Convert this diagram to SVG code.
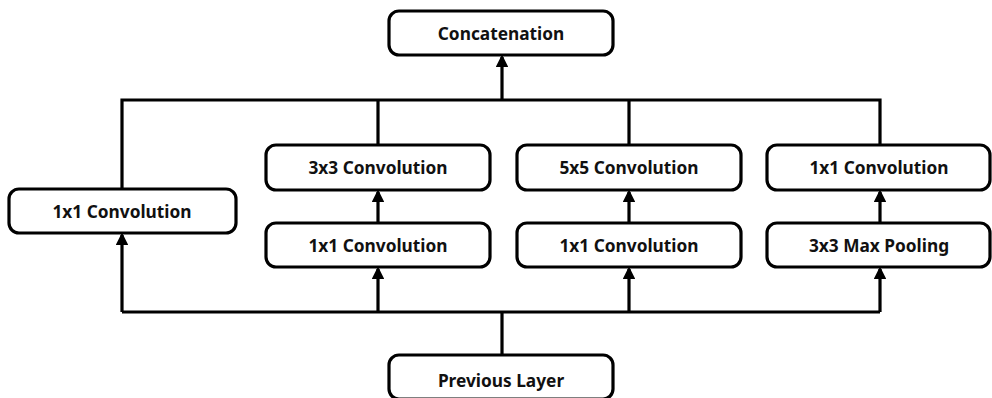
<svg xmlns="http://www.w3.org/2000/svg" width="992" height="398" viewBox="0 0 992 398">
<style>
.box{fill:#fff;stroke:#000;stroke-width:3.2}
.lbl{font-family:"Noto Sans","Open Sans",sans-serif;font-weight:bold;font-size:17.3px;fill:#111;text-anchor:middle;dominant-baseline:central}
.ln{fill:none;stroke:#000;stroke-width:3.2}
</style>
<defs>
<marker id="ah" markerWidth="4" markerHeight="4" refX="3.2" refY="2" orient="auto" markerUnits="strokeWidth">
<path d="M0,0 L4,2 L0,4 Z" fill="#000"/>
</marker>
</defs>
<g id="connectors">
<path class="ln" d="M122,189 V100 H880 V145 M378,100 V145 M629,100 V145"/>
<path class="ln" d="M502,100 V57" marker-end="url(#ah)"/>
<path class="ln" d="M502,355 V312"/>
<path class="ln" d="M122,312 H880"/>
<path class="ln" d="M122,312 V235" marker-end="url(#ah)"/>
<path class="ln" d="M378,312 V269" marker-end="url(#ah)"/>
<path class="ln" d="M629,312 V269" marker-end="url(#ah)"/>
<path class="ln" d="M880,312 V269" marker-end="url(#ah)"/>
<path class="ln" d="M378,223 V192" marker-end="url(#ah)"/>
<path class="ln" d="M629,223 V192" marker-end="url(#ah)"/>
<path class="ln" d="M880,223 V192" marker-end="url(#ah)"/>
</g>
<g id="concat"><rect class="box" x="389" y="11" width="224" height="44" rx="10"/><text class="lbl" x="501" y="33">Concatenation</text></g>
<g id="conv1x1_a"><rect class="box" x="9" y="189" width="227" height="44" rx="10"/><text class="lbl" x="122" y="211">1x1 Convolution</text></g>
<g id="conv3x3"><rect class="box" x="266" y="145" width="224" height="45" rx="10"/><text class="lbl" x="378" y="167.5">3x3 Convolution</text></g>
<g id="conv1x1_b"><rect class="box" x="266" y="223" width="224" height="44" rx="10"/><text class="lbl" x="378" y="245">1x1 Convolution</text></g>
<g id="conv5x5"><rect class="box" x="517" y="145" width="224" height="45" rx="10"/><text class="lbl" x="629" y="167.5">5x5 Convolution</text></g>
<g id="conv1x1_c"><rect class="box" x="517" y="223" width="224" height="44" rx="10"/><text class="lbl" x="629" y="245">1x1 Convolution</text></g>
<g id="conv1x1_d"><rect class="box" x="767" y="145" width="223" height="45" rx="10"/><text class="lbl" x="879" y="167.5">1x1 Convolution</text></g>
<g id="maxpool"><rect class="box" x="767" y="223" width="223" height="44" rx="10"/><text class="lbl" x="879" y="245">3x3 Max Pooling</text></g>
<g id="prev"><rect class="box" x="389" y="355" width="224" height="44" rx="10"/><text class="lbl" x="501" y="380">Previous Layer</text></g>
</svg>
